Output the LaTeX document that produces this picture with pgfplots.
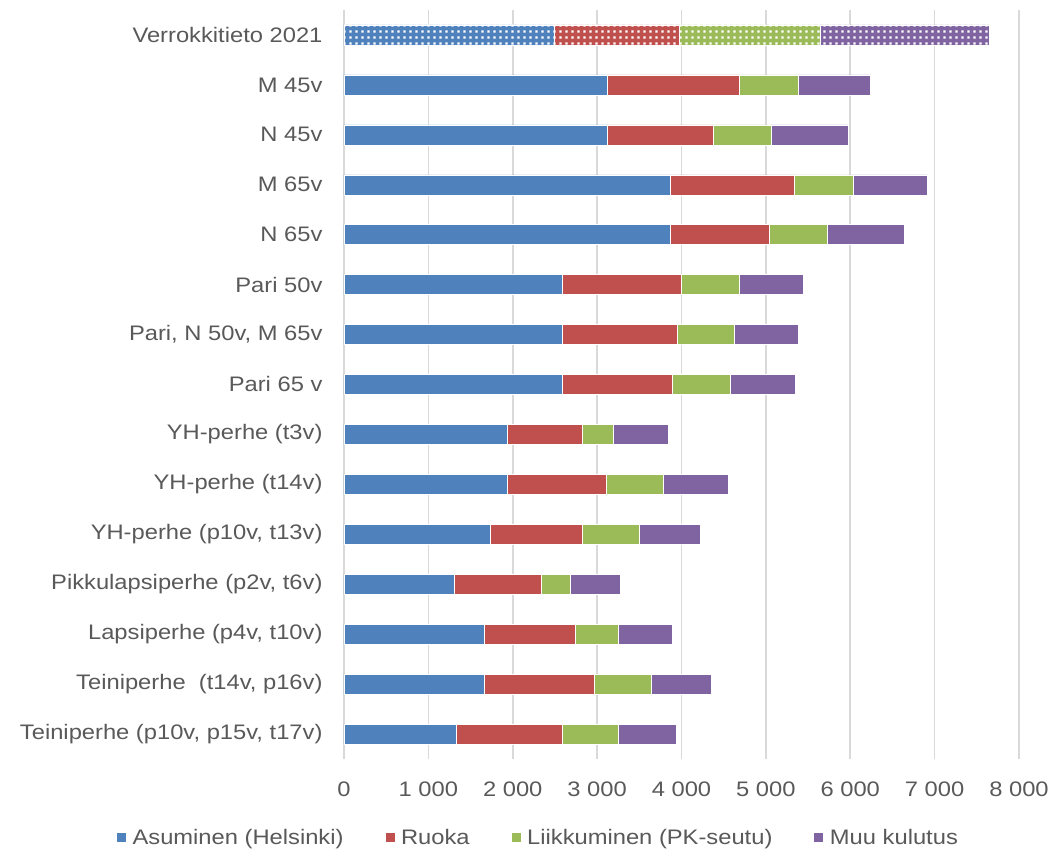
\documentclass[border=0pt]{standalone}
\usepackage{fontspec}
\setmainfont{Liberation Sans}[FakeStretch=1.13]
\usepackage{pgfplots}
\usepackage{pgfplotstable}
\pgfplotsset{compat=1.18}
\usetikzlibrary{patterns}

\definecolor{asuc}{HTML}{4F81BD}
\definecolor{ruoc}{HTML}{C0504D}
\definecolor{liic}{HTML}{9BBB59}
\definecolor{muuc}{HTML}{8064A2}
\definecolor{txtgray}{HTML}{595959}
\definecolor{gridgray}{HTML}{D9D9D9}

% white dots for the reference bar
\pgfdeclarepatternformonly{exceldots}{\pgfpointorigin}{\pgfpoint{6pt}{6pt}}{\pgfpoint{6pt}{6pt}}{%
  \pgfpathrectangle{\pgfpoint{1.5pt}{1.5pt}}{\pgfpoint{2.6pt}{2.6pt}}\pgfusepath{fill}}

% y = row from bottom, monthly euros
\pgfplotstableread{
y  asu   ruo   lii   muu
0  1329  1262  662   686
1  1660  1309  674   706
2  1660  1084  505   639
3  1309  1029  347   584
4  1735  1092  671   729
5  1936  1171  674   773
6  1936  891   363   651
7  2583  1313  678   769
8  2583  1368  674   754
9  2583  1419  679   757
10 3870  1172  687   908
11 3870  1468  692   881
12 3115  1257  691   908
13 3115  1568  697   861
14 2487  1483  1679  1996
}\kulut

\pgfplotstableread{
y  asu   ruo   lii   muu
14 2487  1483  1679  1996
}\verrokki

\pgfplotsset{
  kuvio/.style={
    scale only axis, width=675pt, height=749pt,
    xmin=0, xmax=8000, ymin=-0.5, ymax=14.5,
    xbar stacked, bar width=20pt,
  },
}

\begin{document}
\begin{tikzpicture}
\useasboundingbox (-344pt,-91pt) rectangle (710pt,759pt);
\begin{axis}[
  kuvio,
  axis line style={draw=none},
  major tick length=0pt,
  xmajorgrids,
  grid style={color=gridgray, line width=1.6pt},
  xtick={0,1000,...,8000},
  xticklabels={0,1 000,2 000,3 000,4 000,5 000,6 000,7 000,8 000},
  ytick={0,...,14},
  yticklabels={
    {Teiniperhe (p10v, p15v, t17v)},
    {Teiniperhe\ \ (t14v, p16v)},
    {Lapsiperhe (p4v, t10v)},
    {Pikkulapsiperhe (p2v, t6v)},
    {YH-perhe (p10v, t13v)},
    {YH-perhe (t14v)},
    {YH-perhe (t3v)},
    {Pari 65 v},
    {Pari, N 50v, M 65v},
    {Pari 50v},
    {N 65v},
    {M 65v},
    {N 45v},
    {M 45v},
    {Verrokkitieto 2021}},
  tick label style={font=\fontsize{21}{25}\selectfont, text=txtgray},
  yticklabel style={anchor=east, xshift=-18pt},
  xticklabel style={yshift=-19pt},
  legend columns=4,
  legend style={draw=none, at={(0.2874,-0.1055)}, anchor=center,
    font=\fontsize{21}{25}\selectfont, text=txtgray,
    /tikz/every even column/.append style={column sep=39pt}},
  legend image code/.code={\fill[#1] (0pt,-4pt) rectangle (10pt,6pt);
    \path (14pt,0pt);},
  every axis plot/.append style={draw=white, line width=0.5pt},
]
\addplot[fill=asuc] table[x=asu, y=y] {\kulut};
\addlegendentry{Asuminen (Helsinki)}
\addplot[fill=ruoc] table[x=ruo, y=y] {\kulut};
\addlegendentry{Ruoka}
\addplot[fill=liic] table[x=lii, y=y] {\kulut};
\addlegendentry{Liikkuminen (PK-seutu)}
\addplot[fill=muuc] table[x=muu, y=y] {\kulut};
\addlegendentry{Muu kulutus}
\end{axis}
% dotted overlay on the reference row
\begin{axis}[kuvio, hide axis]
\addplot[draw=none, postaction={pattern=exceldots, pattern color=white}] table[x=asu, y=y] {\verrokki};
\addplot[draw=none, postaction={pattern=exceldots, pattern color=white}] table[x=ruo, y=y] {\verrokki};
\addplot[draw=none, postaction={pattern=exceldots, pattern color=white}] table[x=lii, y=y] {\verrokki};
\addplot[draw=none, postaction={pattern=exceldots, pattern color=white}] table[x=muu, y=y] {\verrokki};
\end{axis}
\end{tikzpicture}
\end{document}
